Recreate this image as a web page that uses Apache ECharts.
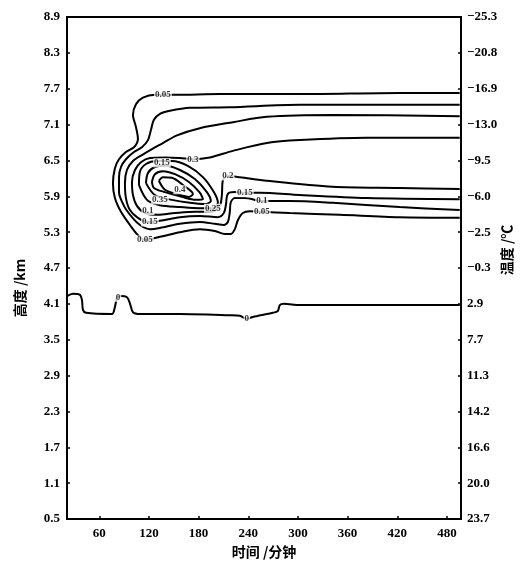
<!DOCTYPE html>
<html>
<head>
<meta charset="utf-8">
<script src="https://cdn.jsdelivr.net/npm/echarts@6/dist/echarts.min.js"></script>
<style>html,body{margin:0;padding:0;background:#fff}#d{width:522px;height:565px}</style>
</head>
<body>
<div id="d"></div>
<script>
// 刻度
var heightTicks=[0.5,1.1,1.7,2.3,2.9,3.5,4.1,4.7,5.3,5.9,6.5,7.1,7.7,8.3,8.9];
var tempLabels=['23.7','20.0','16.6','14.2','11.3','7.7','2.9','\u22120.3','\u22122.5','\u22126.0','\u22129.5','\u221213.0','\u221216.9','\u221220.8','\u221225.3'];
var timeTicks=[60,120,180,240,300,360,420,480];

// 等值线 [时间, 高度]
var c005=[[495.4,5.54],[422.9,5.55],[350.5,5.59],[290.2,5.62],[256.4,5.64],[241.9,5.65],[233.4,5.62],[227.4,5.5],[223.8,5.35],[218.9,5.27],[211.7,5.27],[199.6,5.32],[181.5,5.35],[157.4,5.3],[139.3,5.24],[123.6,5.19],[115.1,5.17],[106.7,5.25],[97,5.42],[86.2,5.64],[78.9,5.87],[76.5,6.12],[78.9,6.37],[83.8,6.52],[92.2,6.64],[101.9,6.72],[106.7,6.86],[104.3,7.06],[100.7,7.26],[104.3,7.44],[112.7,7.55],[127.2,7.6],[151.4,7.6],[205.7,7.61],[302.2,7.61],[422.9,7.63],[495.4,7.63]];
var c010=[[495.4,5.67],[422.9,5.72],[342,5.79],[290.2,5.82],[256.4,5.82],[235.8,5.87],[223.8,5.87],[218.9,5.8],[217.7,5.64],[215.3,5.47],[210.5,5.42],[199.6,5.44],[181.5,5.47],[157.4,5.44],[133.3,5.37],[121.2,5.35],[109.1,5.42],[99.5,5.55],[89.8,5.74],[83.8,5.97],[83.8,6.22],[86.2,6.39],[92.2,6.52],[101.9,6.64],[111.5,6.72],[118.8,6.84],[122.4,7.01],[126,7.18],[133.3,7.28],[145.3,7.33],[169.5,7.38],[217.7,7.39],[302.2,7.43],[422.9,7.43],[495.4,7.43]];
var c015=[[495.4,5.85],[383.1,5.87],[302.2,5.92],[254,5.96],[235.8,5.96],[223.8,5.97],[215.3,5.94],[212.9,5.75],[210.5,5.62],[203.3,5.55],[181.5,5.57],[157.4,5.55],[133.3,5.49],[118.8,5.47],[106.7,5.54],[97,5.67],[92.2,5.87],[91,6.12],[93.4,6.34],[100.7,6.49],[111.5,6.59],[123.6,6.69],[136.9,6.79],[153.8,6.92],[181.5,7.04],[221.4,7.14],[262.4,7.23],[342,7.26],[495.4,7.24]];
var c020=[[495.4,6.02],[422.9,6.04],[342,6.06],[262.4,6.16],[229.8,6.22],[215.3,6.24],[209.3,6.17],[208.1,5.92],[205.7,5.74],[197.2,5.65],[175.5,5.64],[151.4,5.62],[130.8,5.59],[115.1,5.62],[105.5,5.74],[100.7,5.92],[99.5,6.14],[103.1,6.34],[110.3,6.47],[121.2,6.54],[139.3,6.55],[157.4,6.54],[173.1,6.52],[193.6,6.55],[221.4,6.66],[262.4,6.79],[302.2,6.84],[383.1,6.88],[495.4,6.88]];
var c025=[[107.9,6.09],[109.1,6.31],[116.4,6.44],[129.6,6.49],[147.7,6.49],[167,6.41],[185.2,6.22],[198.4,5.97],[203.3,5.79],[197.2,5.7],[181.5,5.7],[157.4,5.72],[133.3,5.75],[117.6,5.84],[107.9,6.09]];
var c030=[[116.4,6.12],[118.8,6.29],[127.2,6.39],[140.5,6.41],[157.4,6.34],[175.5,6.19],[190,5.97],[194.8,5.82],[187.6,5.77],[169.5,5.79],[147.7,5.84],[127.2,5.92],[116.4,6.12]];
var c035=[[123.6,6.14],[127.2,6.27],[136.9,6.32],[151.4,6.27],[168.3,6.14],[181.5,5.96],[185.2,5.85],[176.7,5.84],[159.8,5.89],[139.3,5.97],[126,6.04],[123.6,6.14]];
var c040=[[132,6.16],[136.9,6.22],[147.7,6.21],[161,6.09],[173.1,5.94],[168.3,5.89],[153.8,5.94],[139.3,6.01],[132,6.16]];
// 0℃ 线
var melt=[[21,4.23],[28.2,4.27],[36.7,4.25],[39.1,4.16],[40.3,4.0],[43.9,3.95],[75.3,3.93],[78.9,4.05],[81.4,4.2],[85,4.23],[93.4,4.21],[97,4.11],[100.7,3.96],[109.1,3.93],[157.4,3.93],[217.7,3.91],[229.8,3.9],[238.3,3.85],[245.5,3.88],[269.6,3.95],[275.7,3.98],[278.1,4.08],[283,4.1],[302.2,4.08],[495.4,4.08]];

// 标注
var labelText=['0.05','0.3','0.2','0.15','0.1','0.05','0.25','0.4','0.35','0.15','0.1','0.15','0.05','0','0'];
var labelPos=[[136.9,7.6],[173.1,6.52],[215.3,6.24],[235.8,5.96],[256.4,5.82],[256.4,5.64],[197.2,5.7],[157.4,6.01],[133.3,5.84],[135.7,6.46],[118.8,5.66],[121.2,5.47],[115.1,5.17],[82.6,4.21],[238.3,3.86]];

var lines=[c005,c010,c015,c020,c025,c030,c035,c040,melt];

var myChart=echarts.init(document.getElementById('d'));
var serif='"Liberation Serif","DejaVu Serif",serif';
var cjk='"Noto Sans CJK SC",sans-serif';
option={
  animation:false,
  backgroundColor:'#fff',
  grid:{left:67,right:61,top:17,bottom:46,containLabel:false,outerBoundsMode:'none',show:true,borderColor:'#000',borderWidth:2},
  xAxis:{
    type:'value',min:21,max:497,
    name:'时间 /分钟',nameLocation:'middle',nameGap:26,
    nameTextStyle:{fontFamily:cjk,fontWeight:'bold',fontSize:14,color:'#000'},
    axisLine:{lineStyle:{color:'#000',width:2}},
    axisTick:{inside:true,length:3,customValues:timeTicks,lineStyle:{color:'#000',width:1.5}},
    axisLabel:{customValues:timeTicks,fontFamily:serif,fontWeight:'bold',fontSize:13,color:'#000',margin:8},
    splitLine:{show:false}
  },
  yAxis:[{
    type:'value',min:0.5,max:8.9,position:'left',
    name:'高度 /km',nameLocation:'middle',nameGap:40,nameRotate:90,nameMoveOverlap:false,
    nameTextStyle:{fontFamily:cjk,fontWeight:'bold',fontSize:14,color:'#000',padding:[0,0,0,-40]},
    axisLine:{lineStyle:{color:'#000',width:2}},
    axisTick:{inside:true,length:3,customValues:heightTicks,lineStyle:{color:'#000',width:1.5}},
    axisLabel:{customValues:heightTicks,formatter:function(v){return v.toFixed(1);},fontFamily:serif,fontWeight:'bold',fontSize:13,color:'#000',margin:7},
    splitLine:{show:false}
  },{
    type:'value',min:0.5,max:8.9,position:'right',
    name:'温度 /℃',nameLocation:'middle',nameGap:39,nameRotate:90,nameMoveOverlap:false,
    nameTextStyle:{fontFamily:cjk,fontWeight:'bold',fontSize:14,color:'#000',padding:[0,0,0,36]},
    axisLine:{lineStyle:{color:'#000',width:2}},
    axisTick:{inside:true,length:3,customValues:heightTicks,lineStyle:{color:'#000',width:1.5}},
    axisLabel:{customValues:heightTicks,formatter:function(v){return tempLabels[Math.round((v-0.5)/0.6)];},fontFamily:serif,fontWeight:'bold',fontSize:13,color:'#000',margin:6},
    splitLine:{show:false}
  }],
  series:[]
};
for(var i=0;i<lines.length;i++){
  option.series.push({
    type:'line',data:lines[i],smooth:0.3,symbol:'none',z:2,
    lineStyle:{color:'#000',width:2}
  });
}
var ld=[];
for(var j=0;j<labelText.length;j++){
  ld.push({value:labelPos[j],name:labelText[j]});
}
option.series.push({
  type:'scatter',data:ld,symbolSize:1,z:5,
  itemStyle:{color:'rgba(0,0,0,0)'},
  label:{show:true,position:'inside',formatter:'{b}',fontFamily:serif,fontWeight:'bold',fontSize:9,color:'#000',backgroundColor:'#fff',padding:[0,1]}
});
option && myChart.setOption(option);
</script>
</body>
</html>
